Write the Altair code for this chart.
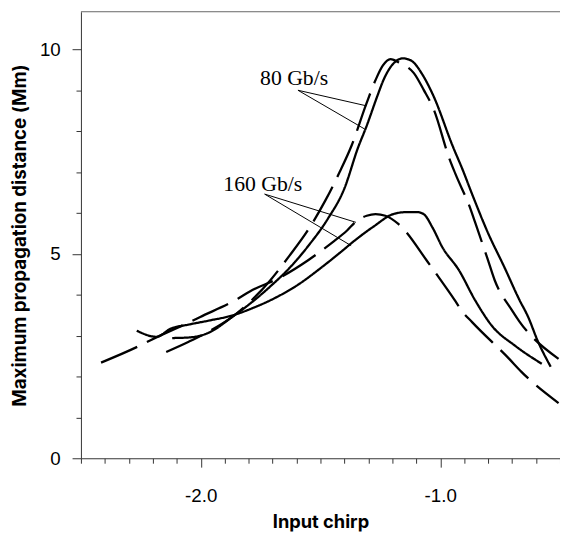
import altair as alt
import pandas as pd

# ---- curves ----
x80_solid = [-2.119, -2.037, -1.963, -1.87, -1.79, -1.71, -1.63, -1.55, -1.47, -1.40,
             -1.343, -1.309, -1.26, -1.237, -1.196, -1.155, -1.12, -1.073, -1.029, -0.947,
             -0.906, -0.867, -0.799, -0.732, -0.670, -0.634, -0.593, -0.539]
y80_solid = [2.94, 2.96, 3.08, 3.45, 3.80, 4.20, 4.65, 5.20, 5.85, 6.60,
             7.60, 8.10, 8.90, 9.25, 9.65, 9.78, 9.72, 9.37, 8.87, 7.62,
             7.05, 6.46, 5.49, 4.67, 3.88, 3.47, 2.87, 2.24]

x80_dashed = [-2.144, -2.05, -1.963, -1.87, -1.79, -1.71, -1.63, -1.55, -1.48, -1.42,
              -1.37, -1.309, -1.27, -1.24, -1.208, -1.167, -1.110, -1.069, -1.027, -0.962,
              -0.937, -0.872, -0.855, -0.802, -0.773, -0.703, -0.670, -0.506]
y80_dashed = [2.60, 2.85, 3.11, 3.45, 3.85, 4.35, 4.95, 5.60, 6.30, 7.00,
              7.65, 8.66, 9.25, 9.60, 9.76, 9.66, 9.42, 9.01, 8.53, 7.33,
              6.96, 6.07, 5.78, 4.87, 4.36, 3.64, 3.35, 2.43]

x160_solid = [-2.267, -2.185, -2.125, -2.05, -1.963, -1.87, -1.78, -1.69, -1.60, -1.495,
              -1.42, -1.356, -1.28, -1.192, -1.14, -1.097, -1.069, -1.032, -0.991, -0.922,
              -0.854, -0.783, -0.687, -0.576]
y160_solid = [3.12, 2.97, 3.17, 3.27, 3.37, 3.49, 3.68, 3.92, 4.22, 4.67,
              5.02, 5.33, 5.66, 5.98, 6.02, 6.02, 5.97, 5.64, 5.16, 4.60,
              3.86, 3.23, 2.75, 2.31]

x160_dashed = [-2.416, -2.256, -2.205, -2.05, -2.004, -1.845, -1.795, -1.672, -1.55, -1.45,
               -1.389, -1.348, -1.307, -1.27, -1.229, -1.175, -1.052, -1.019, -0.941, -0.908,
               -0.867, -0.712, -0.662, -0.506]
y160_dashed = [2.34, 2.75, 2.90, 3.32, 3.45, 3.90, 4.08, 4.41, 4.85, 5.28,
               5.57, 5.81, 5.93, 5.97, 5.93, 5.73, 4.80, 4.53, 3.88, 3.59,
               3.33, 2.43, 2.12, 1.35]

# ---- annotations ----
label_text = ["80 Gb/s", "160 Gb/s"]
label_x = [-1.610, -1.741]
label_y = [9.14, 6.53]

leader_x0 = [-1.594, -1.594, -1.733, -1.733]
leader_y0 = [9.00, 9.00, 6.46, 6.46]
leader_x1 = [-1.309, -1.315, -1.352, -1.372]
leader_y1 = [8.62, 8.05, 5.77, 5.20]

# ---- axes ----
x_ticks = [-2.5, -2.4, -2.3, -2.2, -2.1, -2.0, -1.9, -1.8, -1.7, -1.6, -1.5,
           -1.4, -1.3, -1.2, -1.1, -1.0, -0.9, -0.8, -0.7, -0.6, -0.5]
y_ticks = [0, 1, 2, 3, 4, 5, 6, 7, 8, 9, 10]
x_domain = [-2.5, -0.5]
y_domain = [0, 10.92]

series = [
    ("80 solid", "solid", x80_solid, y80_solid),
    ("80 dashed", "dashed", x80_dashed, y80_dashed),
    ("160 solid", "solid", x160_solid, y160_solid),
    ("160 dashed", "dashed", x160_dashed, y160_dashed),
]
rows = []
for name, style, xs, ys in series:
    for i, (a, b) in enumerate(zip(xs, ys)):
        rows.append({"x": a, "y": b, "series": name, "style": style, "idx": i})
df = pd.DataFrame(rows)

labels_df = pd.DataFrame({"x": label_x, "y": label_y, "text": label_text})
leaders_df = pd.DataFrame({"x": leader_x0, "y": leader_y0, "x1": leader_x1, "y1": leader_y1})

AXIS_COLOR = "#333333"

x_axis = alt.Axis(
    values=x_ticks,
    title="Input chirp",
    titleFont="Inter", titleFontSize=18.5, titleFontWeight="bold", titleColor="black",
    titleX=243, titleY=70, titleAlign="center", titleBaseline="alphabetic",
    labelExpr="abs(datum.value - round(datum.value)) < 0.001 ? replace(format(datum.value, '.1f'), '\u2212', '-') : ''",
    labelFont="Liberation Sans", labelFontSize=19, labelColor="black",
    labelBaseline="alphabetic", labelPadding=34.6, labelOverlap=False, labelFlush=False,
    tickSize={"condition": {"test": "abs(datum.value - round(datum.value)) < 0.001", "value": 9}, "value": 5},
    tickColor=AXIS_COLOR, domainColor=AXIS_COLOR, tickWidth=1, domainWidth=1, grid=False,
)
y_axis = alt.Axis(
    values=y_ticks,
    title="Maximum propagation distance (Mm)",
    titleFont="Inter", titleFontSize=19, titleFontWeight="bold", titleColor="black",
    titleX=-56, titleY=226.5, titleAngle=270, titleAlign="center", titleBaseline="alphabetic",
    labelExpr="datum.value % 5 == 0 ? datum.label : ''",
    labelFont="Liberation Sans", labelFontSize=19, labelColor="black",
    labelPadding=12, labelOverlap=False, labelFlush=False,
    tickSize={"condition": {"test": "datum.value % 5 == 0", "value": 9}, "value": 5},
    tickColor=AXIS_COLOR, domainColor=AXIS_COLOR, tickWidth=1, domainWidth=1, grid=False,
)
x_scale = alt.Scale(domain=x_domain, nice=False, zero=False)
y_scale = alt.Scale(domain=y_domain, nice=False, zero=False)

frame = alt.Chart(pd.DataFrame({"a": [0]})).mark_rule(color="#666666", strokeWidth=1).encode(
    y=alt.value(0)
)

lines = alt.Chart(df).mark_line(color="black", strokeWidth=2.3, interpolate="monotone", strokeCap="butt").encode(
    x=alt.X("x:Q", scale=x_scale, axis=x_axis),
    y=alt.Y("y:Q", scale=y_scale, axis=y_axis),
    detail="series:N",
    order="idx:Q",
    strokeDash=alt.StrokeDash("style:N", scale=alt.Scale(domain=["solid", "dashed"], range=[[1, 0], [40, 11]]), legend=None),
)

leaders = alt.Chart(leaders_df).mark_rule(color="black", strokeWidth=1).encode(
    x=alt.X("x:Q", scale=x_scale, axis=x_axis),
    y=alt.Y("y:Q", scale=y_scale, axis=y_axis),
    x2="x1:Q",
    y2="y1:Q",
)

texts = alt.Chart(labels_df).mark_text(font="Liberation Serif", fontSize=22, align="center", baseline="alphabetic", color="black").encode(
    x=alt.X("x:Q", scale=x_scale, axis=x_axis),
    y=alt.Y("y:Q", scale=y_scale, axis=y_axis),
    text="text:N",
)

chart = alt.layer(frame, lines, leaders, texts).properties(
    width=486, height=453,
    autosize=alt.AutoSizeParams(type="none"),
    padding={"left": 74, "top": 0, "right": 0, "bottom": 71},
).configure_view(stroke=None)

chart.save("out.html", embed_options={"renderer": "svg", "actions": False})
